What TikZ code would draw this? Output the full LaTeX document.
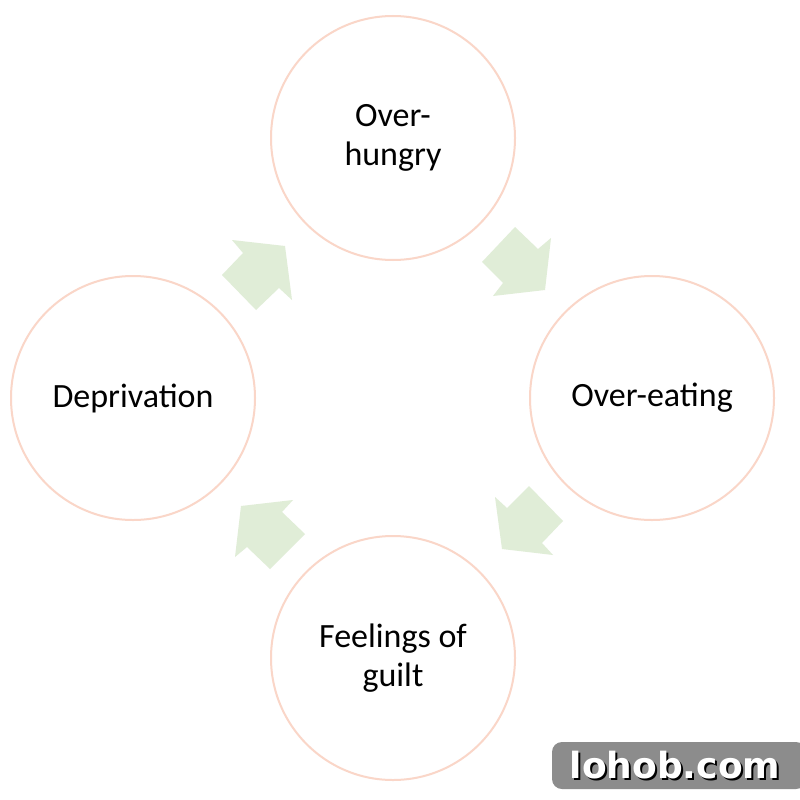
\documentclass[tikz,border=0pt]{standalone}
\usepackage{fontspec}
\setmainfont{Carlito}
\newfontfamily\wmfont{DejaVu Sans}
\definecolor{ringc}{HTML}{FAD6C8}
\definecolor{arrc}{HTML}{E0EDD7}
\definecolor{wmgray}{HTML}{8C8C8C}
\begin{document}
\begin{tikzpicture}[x=1pt,y=-1pt,
  stage/.style={circle,draw=ringc,line width=2pt,fill=white,minimum size=244pt,inner sep=0pt,align=center,font=\fontsize{34}{39}\selectfont},
  blockarrow/.style={fill=arrc,draw=none}]
\useasboundingbox (0,0) rectangle (800,800);
\fill[white] (0,0) rectangle (800,800);
\node[stage] (top) at (393,138) {Over-\\hungry};
\node[stage] (right) at (652,398) {Over-eating};
\node[stage] (bottom) at (393,658) {Feelings of\\guilt};
\node[stage] (left) at (133,398) {Deprivation};
% block arrows
\fill[blockarrow] (515,227) -- (482,262) -- (503,283) -- (493,296) -- (545,290) -- (551,238) -- (538,249) -- cycle;
\fill[blockarrow] (529,486) -- (563,521) -- (542,543) -- (553,555) -- (502,549) -- (495,497) -- (507,508) -- cycle;
\fill[blockarrow] (270,569) -- (305,534) -- (282,512) -- (293,500) -- (241,506) -- (235,557) -- (247,547) -- cycle;
\fill[blockarrow] (222,275) -- (256,310) -- (279,288) -- (292,300) -- (285,246) -- (232,240) -- (243,253) -- cycle;
% watermark
\fill[wmgray,rounded corners=10pt] (552,742) rectangle (806,789);
\node[font=\wmfont\bfseries\fontsize{36}{36}\selectfont,text=white] (wm) at (675,766)
  {\rlap{\hspace{2pt}\raisebox{-2pt}{\color{black}lohob.com}}lohob.com};
\end{tikzpicture}
\end{document}
